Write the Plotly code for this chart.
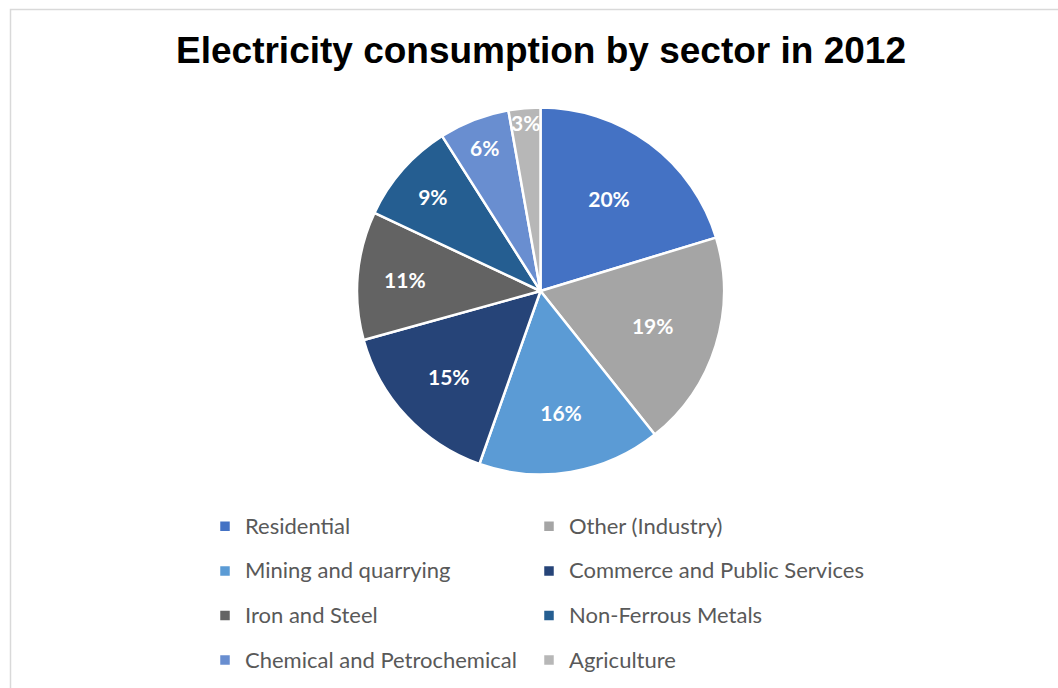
import plotly.graph_objects as go

W, H = 1058, 688
ML, MR = 218, 40
PW = W - ML - MR


def px(x):
    return (x - ML) / PW


def py(y):
    return 1 - y / H


sectors = ["Residential", "Other (Industry)", "Mining and quarrying",
           "Commerce and Public Services", "Iron and Steel", "Non-Ferrous Metals",
           "Chemical and Petrochemical", "Agriculture"]
shares = [20.3, 19.0, 16.1, 15.3, 11.3, 9.0, 6.2, 2.8]
colors = ["#4472C4", "#A5A5A5", "#5B9BD5", "#264478", "#636363", "#255E91",
          "#698ED0", "#B7B7B7"]

fig = go.Figure()
fig.add_trace(go.Pie(
    labels=[f"<span style='font-size:22px;baseline-shift:5px'>{s}</span>" for s in sectors],
    values=shares,
    sort=False,
    direction="clockwise",
    rotation=0,
    marker=dict(colors=colors, line=dict(color="white", width=2.5)),
    texttemplate="<b>%{percent:.0%}</b>",
    textposition="inside",
    insidetextorientation="horizontal",
    textfont=dict(family="Lato, Open Sans, sans-serif", size=21, color="white"),
    hovertemplate="%{label}: %{value}<extra></extra>",
    domain=dict(x=[px(357), px(724)], y=[py(475), py(107)]),
))

fig.update_layout(
    width=W, height=H,
    margin=dict(l=ML, r=MR, t=0, b=0, autoexpand=False),
    paper_bgcolor="white",
    plot_bgcolor="white",
    uniformtext=dict(minsize=21, mode="show"),
    title=dict(text="<b>Electricity consumption by sector in 2012</b>",
               xref="container", x=541 / W, xanchor="center",
               yref="container", y=1 - 50 / H, yanchor="middle",
               font=dict(family="Liberation Sans, Arial, sans-serif", size=37, color="black")),
    legend=dict(orientation="h", x=0, xanchor="left",
                y=py(499), yanchor="top",
                indentation=-13,
                entrywidth=292, entrywidthmode="pixels",
                borderwidth=0,
                font=dict(family="Lato, Open Sans, sans-serif", size=32, color="#595959"),
                bgcolor="rgba(0,0,0,0)"),
    shapes=[dict(type="rect", xref="paper", yref="paper",
                 x0=px(10.5), x1=px(W + 20), y0=py(H + 20), y1=py(9.5),
                 line=dict(color="#D9D9D9", width=1.5), fillcolor="rgba(0,0,0,0)", layer="below")],
)

fig.write_html("out.html")
